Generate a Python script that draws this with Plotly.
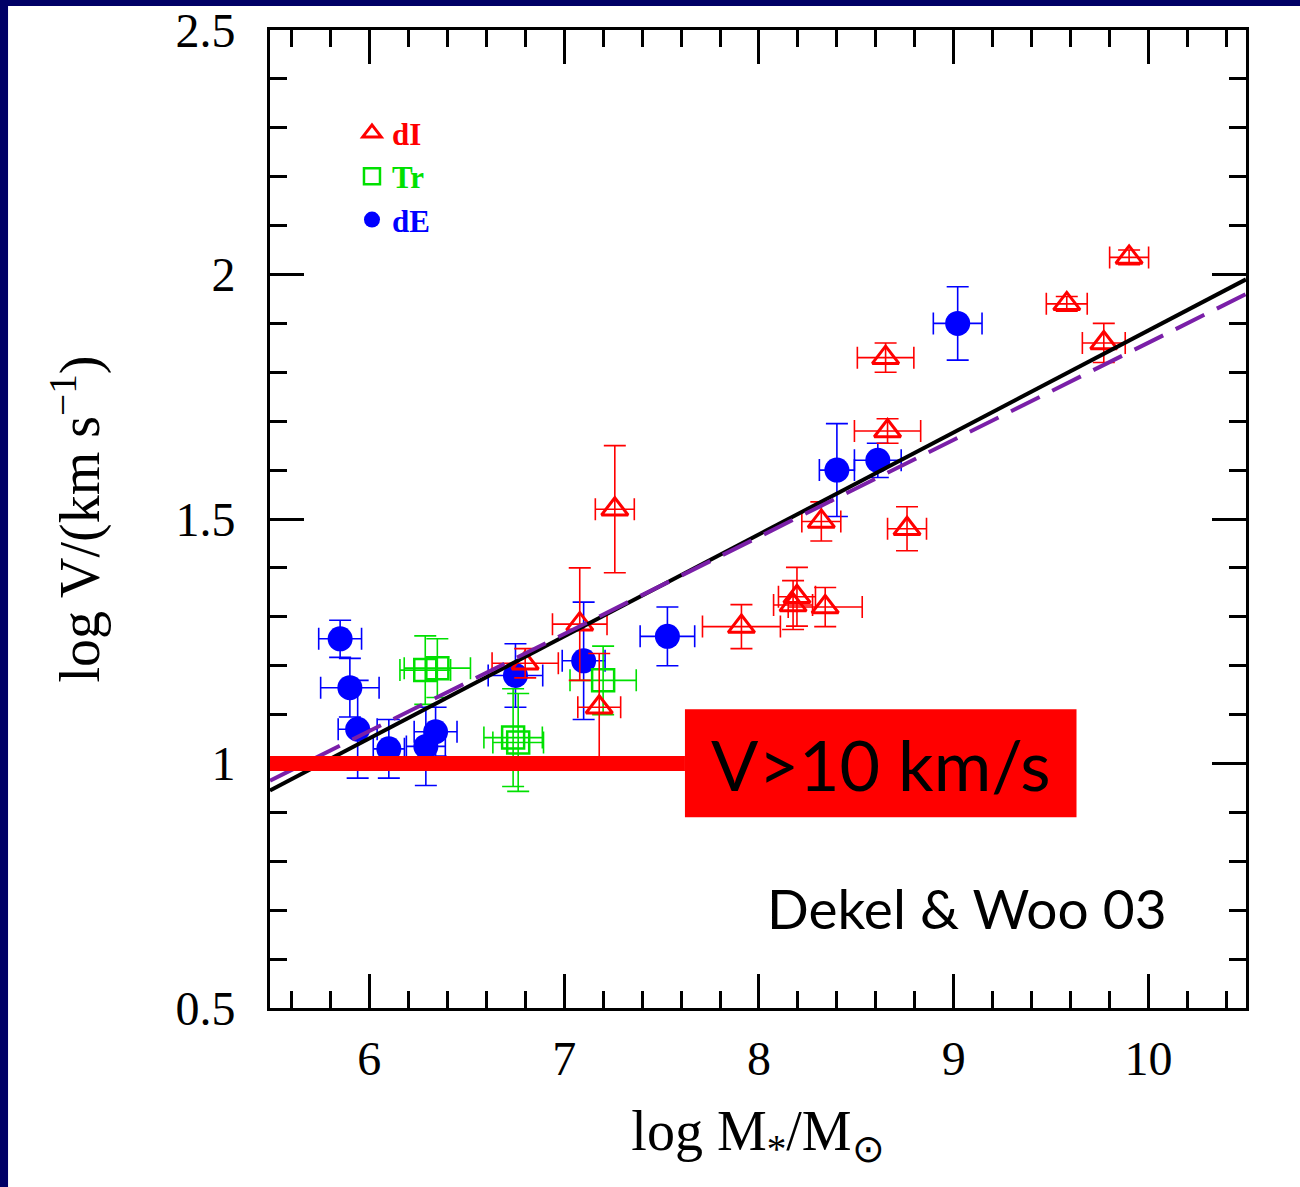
import plotly.graph_objects as go

# ---- data ----
dI_x = [9.90, 9.58, 9.77, 8.65, 8.66, 8.76, 8.32, 8.195, 8.175, 8.34, 7.91, 7.26, 7.08, 7.18, 6.80]
dI_y = [2.035, 1.94, 1.86, 1.83, 1.68, 1.48, 1.495, 1.341, 1.324, 1.32, 1.28, 1.52, 1.285, 1.115, 1.205]
dI_xerr = [0.10, 0.105, 0.11, 0.145, 0.17, 0.10, 0.10, 0.095, 0.10, 0.19, 0.20, 0.10, 0.14, 0.11, 0.17]
dI_yerr = [0.015, 0.015, 0.04, 0.03, 0.025, 0.045, 0.04, 0.06, 0.05, 0.04, 0.045, 0.13, 0.115, 0.11, 0.03]

Tr_x = [6.287, 6.349, 6.738, 6.764, 7.20]
Tr_y = [1.191, 1.195, 1.053, 1.043, 1.17]
Tr_xerr = [0.13, 0.17, 0.15, 0.13, 0.17]
Tr_yerr = [0.07, 0.06, 0.10, 0.10, 0.07]

dE_x = [9.02, 8.40, 8.61, 7.53, 7.10, 6.75, 5.85, 5.90, 5.94, 6.10, 6.29, 6.34]
dE_y = [1.90, 1.60, 1.62, 1.26, 1.21, 1.18, 1.255, 1.155, 1.07, 1.03, 1.035, 1.065]
dE_xerr = [0.125, 0.09, 0.12, 0.14, 0.11, 0.14, 0.11, 0.15, 0.10, 0.08, 0.10, 0.11]
dE_yerr = [0.075, 0.095, 0.035, 0.06, 0.12, 0.065, 0.038, 0.06, 0.10, 0.06, 0.08, 0.05]

fit_x = [5.49, 10.5]
fit_black_y = [0.945, 1.99]
fit_purple_y = [0.965, 1.96]

x_ticks = [6, 7, 8, 9, 10]
y_ticks = [0.5, 1, 1.5, 2, 2.5]
y_ticklabels = ["0.5", "1", "1.5", "2", "2.5"]

RED = "#ff0000"
GREEN = "#00e000"
BLUE = "#0000ff"
PURPLE = "#7a1fa8"

fig = go.Figure()

def err(vals, color):
    return dict(type="data", array=vals, visible=True, color=color, thickness=1.6, width=11)

fig.add_trace(go.Scatter(
    x=dE_x, y=dE_y, mode="markers",
    name='<span style="color:#0000ff"><b>dE</b></span>',
    marker=dict(symbol="circle", size=25, color=BLUE, line=dict(width=0)),
    error_x=err(dE_xerr, BLUE), error_y=err(dE_yerr, BLUE), legendrank=3,
))
fig.add_trace(go.Scatter(
    x=Tr_x, y=Tr_y, mode="markers",
    name='<span style="color:#00e000"><b>Tr</b></span>',
    marker=dict(symbol="square-open", size=22, color=GREEN, line=dict(width=2.5, color=GREEN)),
    error_x=err(Tr_xerr, GREEN), error_y=err(Tr_yerr, GREEN), legendrank=2,
))
fig.add_trace(go.Scatter(
    x=dI_x, y=dI_y, mode="markers",
    name='<span style="color:#ff0000"><b>dI</b></span>',
    marker=dict(symbol="triangle-up-open", size=23, color=RED, line=dict(width=3, color=RED)),
    error_x=err(dI_xerr, RED), error_y=err(dI_yerr, RED), legendrank=1,
))
fig.add_trace(go.Scatter(
    x=fit_x, y=fit_black_y, mode="lines", showlegend=False,
    line=dict(color="black", width=4),
))
fig.add_trace(go.Scatter(
    x=fit_x, y=fit_purple_y, mode="lines", showlegend=False,
    line=dict(color=PURPLE, width=4, dash="32px,14px"),
))

shapes = [
    # red threshold line and box
    dict(type="line", xref="x", yref="y", x0=5.49, x1=7.62, y0=1.0, y1=1.0,
         line=dict(color=RED, width=15), layer="above"),
    dict(type="rect", xref="x", yref="y", x0=7.62, x1=9.63, y0=0.89, y1=1.111,
         fillcolor=RED, line=dict(width=0), layer="above"),
    # navy frame strips of the slide
    dict(type="rect", xref="paper", yref="paper", x0=-0.4, x1=-0.2684, y0=-0.4, y1=1.2,
         fillcolor="#000066", line=dict(width=0), layer="below"),
    dict(type="rect", xref="paper", yref="paper", x0=-0.4, x1=1.2, y0=1.0245, y1=1.2,
         fillcolor="#000066", line=dict(width=0), layer="below"),
]

annotations = [
    dict(x=8.625, y=1.0, xref="x", yref="y", text="V>10 km/s", showarrow=False,
         font=dict(family="Lato, sans-serif", size=70, color="black")),
    dict(x=9.07, y=0.705, xref="x", yref="y", text="Dekel &amp; Woo 03", showarrow=False,
         font=dict(family="Lato, sans-serif", size=55, color="black")),
]

axis_common = dict(
    showgrid=False, zeroline=False, showline=True, linecolor="black", linewidth=3,
    mirror="ticks", ticks="inside", tickcolor="black", tickwidth=2.5,
    tickfont=dict(family="Liberation Serif, serif", size=48, color="black"),
)

fig.update_xaxes(
    **axis_common, range=[5.49, 10.5], tickvals=x_ticks, ticklen=34,
    minor=dict(dtick=0.2, tick0=0, ticklen=17, ticks="inside", tickwidth=2.5, tickcolor="black"),
    ticklabelstandoff=6,
    title=dict(text="log M<sub>*</sub>/M<sub>⊙</sub>", standoff=28,
               font=dict(family="Liberation Serif, serif", size=56, color="black")),
)
fig.update_yaxes(
    **axis_common, range=[0.5, 2.5], tickvals=y_ticks, ticktext=y_ticklabels, ticklen=34,
    minor=dict(dtick=0.1, tick0=0, ticklen=17, ticks="inside", tickwidth=2.5, tickcolor="black"),
    ticklabelstandoff=22,
    title=dict(text="log V/(km s<sup>−1</sup>)", standoff=58,
               font=dict(family="Liberation Serif, serif", size=56, color="black")),
)

fig.update_layout(
    width=1300, height=1187,
    margin=dict(l=270, r=54, t=30, b=179, autoexpand=False),
    paper_bgcolor="white", plot_bgcolor="white",
    shapes=shapes, annotations=annotations,
    showlegend=True,
    legend=dict(x=0.084, y=0.922, xanchor="left", yanchor="top",
                bgcolor="rgba(0,0,0,0)", borderwidth=0,
                font=dict(family="Liberation Serif, serif", size=31),
                itemsizing="trace"),
)

fig.write_html("out.html")
